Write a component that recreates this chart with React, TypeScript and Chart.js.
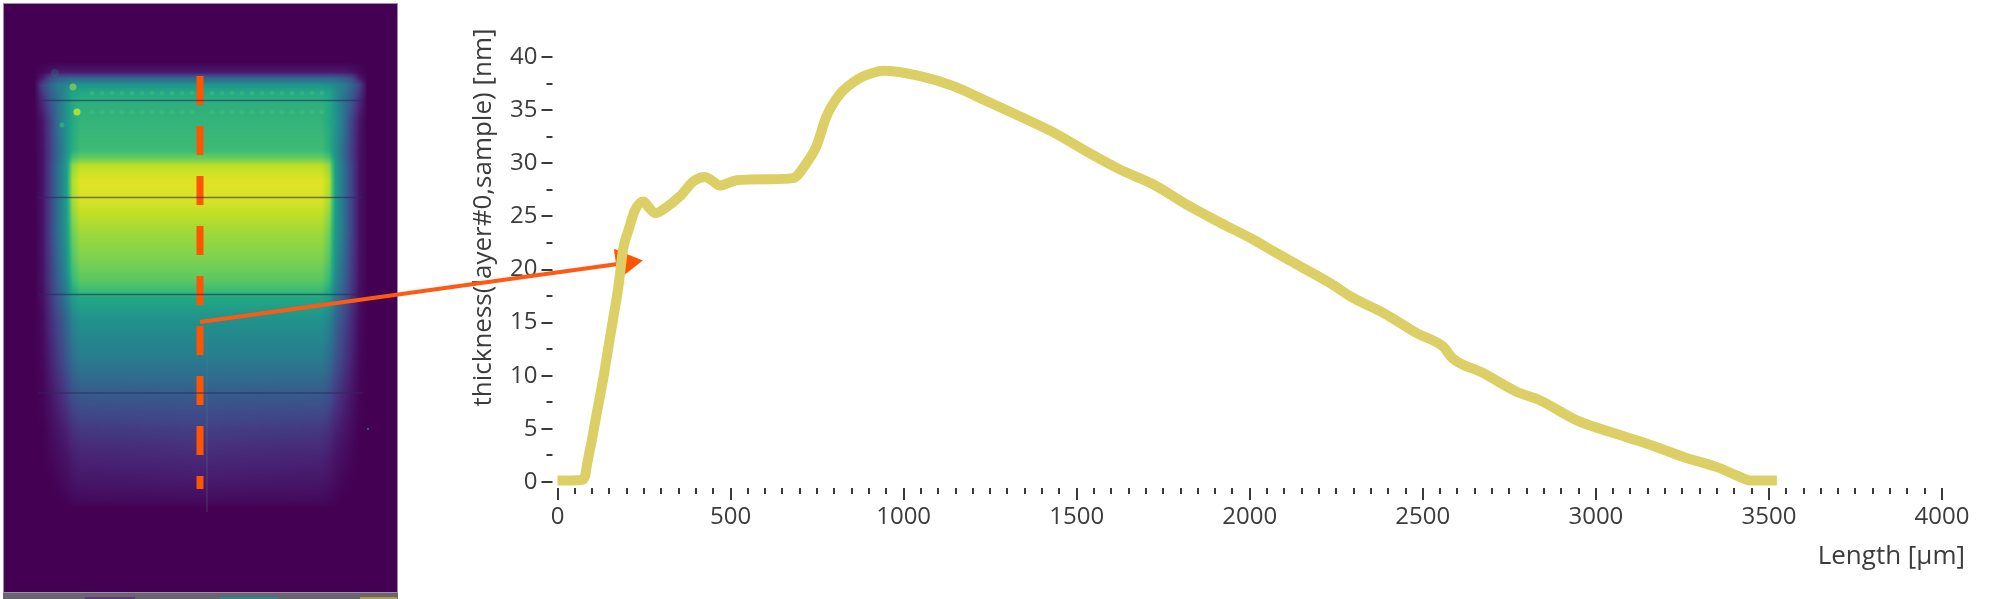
import React, { useEffect, useRef } from "react";
import { Chart, registerables } from "chart.js";

Chart.register(...registerables);

// Thickness profile: length [µm], thickness [nm]
const lengthUm = [0, 40, 70, 80, 84, 99, 113, 132, 147, 161, 176, 190, 205, 224, 248, 265, 282, 316, 354, 393, 426, 445, 469, 517, 613, 680, 719, 748, 777, 816, 873, 911, 940, 1048, 1144, 1240, 1337, 1433, 1529, 1626, 1722, 1818, 1915, 2011, 2069, 2146, 2233, 2300, 2387, 2483, 2560, 2584, 2675, 2771, 2838, 2945, 3042, 3148, 3253, 3350, 3417, 3446, 3523];
const thicknessNm = [0.15, 0.15, 0.2, 0.6, 1.4, 3.9, 6.4, 9.7, 12.7, 15.4, 18.4, 22.0, 23.7, 25.6, 26.4, 25.8, 25.3, 25.9, 26.9, 28.3, 28.7, 28.4, 27.9, 28.4, 28.5, 28.6, 30, 31.6, 34.4, 36.5, 38, 38.5, 38.7, 38.2, 37.26, 35.85, 34.4, 32.9, 31.1, 29.4, 28, 26.1, 24.4, 22.8, 21.7, 20.3, 18.7, 17.3, 15.9, 14, 12.7, 11.7, 10.25, 8.5, 7.7, 5.8, 4.7, 3.6, 2.36, 1.4, 0.47, 0.15, 0.15];

// Darker specks inside the thick trace
const speckX = [75, 89, 110, 110, 116, 130, 144, 147, 152, 164, 171, 186, 217, 224, 306, 2584];
const speckY = [0.85, 2.83, 5.5, 6.9, 7.7, 10.85, 12.1, 13.7, 15.4, 16.7, 17.6, 22.5, 24.4, 25.2, 25.5, 11.7];

// Orange arrow, in the profile's axis units
const arrowX = [-1033, 195];
const arrowY = [15.05, 20.61];

const xMajorTicks = [0, 500, 1000, 1500, 2000, 2500, 3000, 3500, 4000];
const xAxisTitle = "Length [µm]";
const yAxisTitle = "thickness(layer#0,sample) [nm]";

// Heat map of the sample, in image units. Columns run from the left border to the centre; the right half mirrors them.
const heatColumns = [34, 42, 50, 58, 66, 72, 80, 200];
const heatRowPositions = [62, 72, 78, 85, 92, 100, 120, 150, 157, 165, 180, 200, 230, 260, 280, 290, 297, 320, 360, 400, 430, 455, 480, 498, 508];
const heatValues = [
  [0, 0, 0, 0, 0, 0, 0, 0],
  [0, 0.02, 0.06, 0.08, 0.08, 0.08, 0.08, 0.08],
  [0, 0.08, 0.24, 0.3, 0.33, 0.34, 0.34, 0.34],
  [0, 0.2, 0.33, 0.42, 0.46, 0.5, 0.52, 0.52],
  [0, 0.16, 0.3, 0.4, 0.48, 0.57, 0.6, 0.6],
  [0, 0.12, 0.27, 0.38, 0.5, 0.6, 0.63, 0.63],
  [0, 0.06, 0.2, 0.38, 0.52, 0.6, 0.65, 0.65],
  [0, 0.05, 0.18, 0.35, 0.5, 0.62, 0.68, 0.68],
  [0, 0.05, 0.18, 0.35, 0.52, 0.7, 0.76, 0.76],
  [0, 0.05, 0.2, 0.38, 0.54, 0.83, 0.9, 0.9],
  [0, 0.05, 0.2, 0.38, 0.55, 0.88, 0.955, 0.955],
  [0, 0.05, 0.2, 0.38, 0.55, 0.86, 0.94, 0.94],
  [0, 0.05, 0.2, 0.38, 0.53, 0.78, 0.86, 0.86],
  [0, 0.05, 0.18, 0.35, 0.5, 0.72, 0.8, 0.8],
  [0, 0.05, 0.17, 0.32, 0.46, 0.66, 0.74, 0.74],
  [0, 0.04, 0.16, 0.3, 0.42, 0.6, 0.68, 0.68],
  [0, 0.04, 0.15, 0.28, 0.4, 0.54, 0.6, 0.6],
  [0, 0.03, 0.12, 0.22, 0.33, 0.44, 0.5, 0.5],
  [0, 0.02, 0.09, 0.17, 0.26, 0.35, 0.41, 0.41],
  [0, 0.01, 0.05, 0.1, 0.16, 0.22, 0.26, 0.27],
  [0, 0, 0.03, 0.06, 0.09, 0.13, 0.16, 0.18],
  [0, 0, 0.015, 0.035, 0.055, 0.08, 0.1, 0.12],
  [0, 0, 0, 0.015, 0.03, 0.05, 0.06, 0.07],
  [0, 0, 0, 0, 0.01, 0.02, 0.03, 0.035],
  [0, 0, 0, 0, 0, 0, 0, 0],
];
const viridisStops = [
  [68, 1, 84], [72, 36, 117], [65, 68, 135], [53, 95, 141], [42, 120, 142], [33, 145, 140],
  [34, 168, 132], [68, 191, 112], [122, 209, 81], [189, 223, 38], [253, 231, 37],
];
const heatLineRows = [100.5, 197.5, 294.6, 393];
const heatLineSpan = [38, 363];
const cutLineX = [200, 200];
const cutLineY = [76, 489];
const faintLineX = [207, 207];
const faintLineY = [329, 512];
const spotX = [73, 77, 62, 55, 368];
const spotY = [87, 112, 125, 73, 429];
const rippleX = [92, 102, 112, 122, 132, 142, 152, 162, 172, 182, 192, 212, 222, 232, 242, 252, 262, 272, 282, 292, 302, 312, 322];
const rippleRows = [93, 112];
const stripParts = [
  { from: 85, to: 135, color: "#5b3a82" },
  { from: 220, to: 277, color: "#2b8a8c" },
  { from: 360, to: 397, color: "#a8a04e" },
];

function lookup(list: number[], v: number): [number, number] {
  if (v <= list[0]) return [0, 0];
  for (let i = 1; i < list.length; i++) {
    if (v <= list[i]) return [i - 1, (v - list[i - 1]) / (list[i] - list[i - 1])];
  }
  return [list.length - 2, 1];
}

const heatPlugin = {
  id: "heat",
  beforeDatasetsDraw(chart: any) {
    const { ctx, scales } = chart;
    const sx = scales.x, sy = scales.y;
    const left = Math.round(sx.getPixelForValue(3));
    const right = Math.round(sx.getPixelForValue(398));
    const top = Math.round(sy.getPixelForValue(3));
    const bottom = Math.round(sy.getPixelForValue(593));
    const w = right - left, h = bottom - top;
    const img = ctx.createImageData(w, h);
    for (let py = 0; py < h; py++) {
      const [r, rt] = lookup(heatRowPositions, sy.getValueForPixel(top + py));
      for (let px = 0; px < w; px++) {
        let xv = sx.getValueForPixel(left + px);
        if (xv > 200.5) xv = 401 - xv;
        const [c, ct] = lookup(heatColumns, xv);
        const a = heatValues[r][c] * (1 - ct) + heatValues[r][c + 1] * ct;
        const b = heatValues[r + 1][c] * (1 - ct) + heatValues[r + 1][c + 1] * ct;
        const val = Math.min(0.9999, a * (1 - rt) + b * rt) * 10;
        const i0 = Math.floor(val), f = val - i0;
        const o = (py * w + px) * 4;
        for (let k = 0; k < 3; k++) {
          img.data[o + k] = viridisStops[i0][k] * (1 - f) + viridisStops[i0 + 1][k] * f;
        }
        img.data[o + 3] = 255;
      }
    }
    ctx.putImageData(img, left, top);
    ctx.save();
    const stripBottom = sy.getPixelForValue(599);
    ctx.fillStyle = "#66666c";
    ctx.fillRect(left, bottom, w, stripBottom - bottom);
    stripParts.forEach((p) => {
      ctx.fillStyle = p.color;
      const x0 = sx.getPixelForValue(p.from);
      ctx.fillRect(x0, bottom + 4, sx.getPixelForValue(p.to) - x0, stripBottom - bottom - 4);
    });
    ctx.strokeStyle = "#a58bb0";
    ctx.lineWidth = 1;
    ctx.strokeRect(left + 0.5, top + 0.5, w - 1, h - 1);
    ctx.restore();
  },
};

const axisDecorPlugin = {
  id: "axisDecor",
  beforeDatasetsDraw(chart: any) {
    const { ctx, scales, chartArea } = chart;
    ctx.save();
    ctx.strokeStyle = "#3a3a3a";
    ctx.lineWidth = 2;
    scales.x.ticks.forEach((t: any) => {
      const p = Math.round(scales.x.getPixelForValue(t.value));
      const major = t.value % 500 === 0;
      ctx.beginPath();
      ctx.moveTo(p, chartArea.bottom + 6);
      ctx.lineTo(p, chartArea.bottom + (major ? 18 : 12));
      ctx.stroke();
    });
    scales.y.ticks.forEach((t: any) => {
      const p = Math.round(scales.y.getPixelForValue(t.value));
      const major = t.value % 5 === 0;
      ctx.beginPath();
      ctx.moveTo(chartArea.left - 5, p);
      ctx.lineTo(chartArea.left - (major ? 16 : 11), p);
      ctx.stroke();
    });
    ctx.fillStyle = "#3c3c3c";
    ctx.font = "26px 'Open Sans'";
    ctx.textAlign = "right";
    ctx.textBaseline = "middle";
    ctx.fillText(xAxisTitle, 1965, 557);
    ctx.translate(484, 217.5);
    ctx.rotate(-Math.PI / 2);
    ctx.textAlign = "center";
    ctx.fillText(yAxisTitle, 0, 0);
    ctx.restore();
  },
};

const hiddenScale = (min: number, max: number, reverse: boolean) => ({
  type: "linear" as const, min, max, reverse, display: false,
});

export default function App() {
  const heatRef = useRef<HTMLCanvasElement>(null);
  const mainRef = useRef<HTMLCanvasElement>(null);

  useEffect(() => {
    const heat = new Chart(heatRef.current!, {
      type: "line",
      plugins: [heatPlugin],
      data: {
        datasets: [
          ...rippleRows.map((r) => ({
            data: rippleX.map((x) => ({ x, y: r })),
            showLine: false,
            pointRadius: 2.5,
            pointBorderWidth: 0,
            pointBackgroundColor: "rgba(110,205,110,0.22)",
          })),
          ...heatLineRows.map((r) => ({
            data: heatLineSpan.map((x) => ({ x, y: r })),
            borderColor: "rgba(45,40,90,0.6)",
            borderWidth: 1.5,
            pointRadius: 0,
          })),
          {
            data: faintLineX.map((x, i) => ({ x, y: faintLineY[i] })),
            borderColor: "rgba(70,150,150,0.14)",
            borderWidth: 1,
            pointRadius: 0,
          },
          {
            data: spotX.map((x, i) => ({ x, y: spotY[i] })),
            showLine: false,
            pointRadius: [3.5, 3.5, 2.5, 4, 1],
            pointBorderWidth: 0,
            pointBackgroundColor: ["rgba(122,209,81,0.8)", "#b3dc30", "rgba(53,183,121,0.7)", "rgba(55,110,140,0.35)", "#2a788e"],
          },
          {
            data: cutLineX.map((x, i) => ({ x, y: cutLineY[i] })),
            borderColor: "#ff5500",
            borderWidth: 7,
            borderDash: [29, 21],
            pointRadius: 0,
          },
        ],
      },
      options: {
        responsive: false,
        animation: false,
        layout: { padding: 0, autoPadding: false },
        plugins: { legend: { display: false }, tooltip: { enabled: false } },
        scales: { x: hiddenScale(0, 398, false), y: hiddenScale(0, 599, true) },
      },
    } as any);

    const main = new Chart(mainRef.current!, {
      type: "line",
      plugins: [axisDecorPlugin],
      data: {
        datasets: [
          {
            label: "thickness",
            data: lengthUm.map((x, i) => ({ x, y: thicknessNm[i] })),
            borderColor: "#dccf66",
            borderWidth: 10,
            borderJoinStyle: "round",
            cubicInterpolationMode: "monotone",
            pointRadius: 0,
            clip: false,
          },
          {
            label: "specks",
            data: speckX.map((x, i) => ({ x, y: speckY[i] })),
            showLine: false,
            pointRadius: 1.5,
            pointBorderWidth: 0,
            pointBackgroundColor: "#8f8a38",
            clip: false,
          },
          {
            label: "arrow",
            data: arrowX.map((x, i) => ({ x, y: arrowY[i] })),
            borderColor: "#ff5a14",
            borderWidth: 4,
            pointStyle: "triangle",
            pointRadius: [0, 18],
            pointRotation: 82,
            pointBorderWidth: 0,
            pointBackgroundColor: "#ff5500",
            clip: false,
          },
        ],
      },
      options: {
        responsive: false,
        animation: false,
        layout: { padding: { left: 470, right: 58, top: 57, bottom: 0 }, autoPadding: false },
        plugins: { legend: { display: false }, tooltip: { enabled: false } },
        scales: {
          x: {
            type: "linear",
            min: 0,
            max: 4000,
            afterFit: (s: any) => { s.height = 117; },
            border: { display: false },
            grid: { display: false, drawTicks: false },
            ticks: {
              stepSize: 50,
              autoSkip: false,
              maxRotation: 0,
              padding: 21,
              color: "#3c3c3c",
              font: { family: "'Open Sans'", size: 24 },
              callback: (v: number) => (xMajorTicks.includes(v) ? String(v) : ""),
            },
          },
          y: {
            type: "linear",
            min: 0,
            max: 40,
            afterFit: (s: any) => { s.width = 87.5; },
            border: { display: false },
            grid: { display: false, drawTicks: false },
            ticks: {
              stepSize: 2.5,
              autoSkip: false,
              padding: 20,
              color: "#3c3c3c",
              font: { family: "'Open Sans'", size: 24 },
              callback: (v: number) => (v % 5 === 0 ? String(v) : ""),
            },
          },
        },
      },
    } as any);

    return () => {
      heat.destroy();
      main.destroy();
    };
  }, []);

  const soft = { position: "absolute" as const, left: 0, top: 0, display: "block", filter: "blur(0.6px)" };
  return (
    <div style={{ position: "absolute", left: 0, top: 0, width: 2000, height: 599, background: "#fff", overflow: "hidden" }}>
      <canvas ref={heatRef} width={398} height={599} style={soft} />
      <canvas ref={mainRef} width={2000} height={599} style={soft} />
    </div>
  );
}
